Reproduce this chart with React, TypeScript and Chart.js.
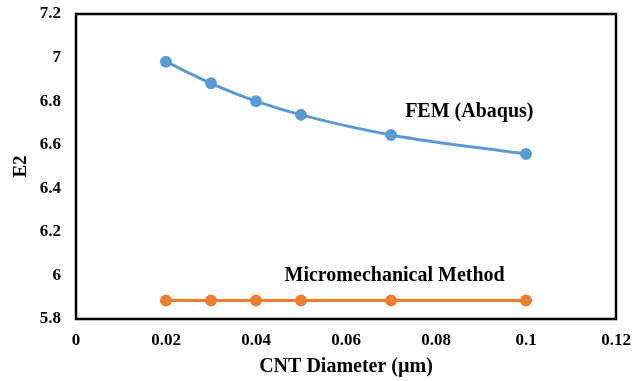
import React, { useEffect, useRef } from "react";
import { Chart, registerables } from "chart.js";

Chart.register(...registerables);

const diameters = [0.02, 0.03, 0.04, 0.05, 0.07, 0.1];
const femValues = [6.981, 6.882, 6.8, 6.737, 6.645, 6.557];
const microValues = [5.885, 5.885, 5.885, 5.885, 5.885, 5.885];
const femLabel = "FEM (Abaqus)";
const microLabel = "Micromechanical Method";
const xTitle = "CNT Diameter (µm)";
const yTitle = "E2";

const FONT = "'Liberation Serif', 'Times New Roman', serif";

export default function App() {
  const ref = useRef<HTMLCanvasElement | null>(null);
  useEffect(() => {
    if (!ref.current) return;
    const borderPlugin = {
      id: "frameAndLabels",
      afterDatasetsDraw(chart: any) {
        const { ctx, chartArea, scales } = chart;
        ctx.save();
        ctx.strokeStyle = "#000";
        ctx.lineWidth = 2.5;
        ctx.strokeRect(chartArea.left, chartArea.top, chartArea.right - chartArea.left, chartArea.bottom - chartArea.top);
        ctx.fillStyle = "#000";
        ctx.font = `bold 20px ${FONT}`;
        ctx.textAlign = "center";
        ctx.textBaseline = "middle";
        ctx.fillText(femLabel, scales.x.getPixelForValue(0.0874), scales.y.getPixelForValue(6.75));
        ctx.fillText(microLabel, scales.x.getPixelForValue(0.0708), scales.y.getPixelForValue(5.998));
        ctx.restore();
      },
    };
    const chart = new Chart(ref.current, {
      type: "line",
      data: {
        datasets: [
          {
            label: femLabel,
            data: diameters.map((d, i) => ({ x: d, y: femValues[i] })),
            borderColor: "#5B9BD5",
            backgroundColor: "#5B9BD5",
            borderWidth: 3,
            pointRadius: 4.5,
            pointHoverRadius: 4.5,
            tension: 0.4,
            cubicInterpolationMode: "monotone",
          },
          {
            label: microLabel,
            data: diameters.map((d, i) => ({ x: d, y: microValues[i] })),
            borderColor: "#ED7D31",
            backgroundColor: "#ED7D31",
            borderWidth: 3,
            pointRadius: 4.5,
            pointHoverRadius: 4.5,
            tension: 0,
          },
        ],
      },
      options: {
        animation: false,
        responsive: false,
        maintainAspectRatio: false,
        layout: { padding: { left: 0, right: 28, top: 14, bottom: 0 } },
        plugins: { legend: { display: false }, tooltip: { enabled: false } },
        scales: {
          x: {
            type: "linear",
            min: 0,
            max: 0.12,
            grid: { display: false, drawTicks: false },
            border: { display: false },
            afterFit: (s: any) => {
              s.height = 62;
              s.paddingLeft = 0;
              s.paddingRight = 0;
            },
            ticks: {
              stepSize: 0.02,
              padding: 11,
              color: "#000",
              font: { family: FONT, size: 17, weight: "bold" },
              callback: (v: any) => String(Math.round(Number(v) * 100) / 100),
              maxRotation: 0,
            },
            title: {
              display: true,
              text: xTitle,
              color: "#000",
              font: { family: FONT, size: 20, weight: "bold" },
              padding: { top: 4, bottom: 2 },
            },
          },
          y: {
            min: 5.8,
            max: 7.2,
            grid: { display: false, drawTicks: false },
            border: { display: false },
            afterFit: (s: any) => {
              s.width = 76;
              s.paddingTop = 0;
              s.paddingBottom = 0;
            },
            ticks: {
              stepSize: 0.2,
              padding: 15,
              color: "#000",
              font: { family: FONT, size: 17, weight: "bold" },
              callback: (v: any) => String(Math.round(Number(v) * 10) / 10),
            },
            title: {
              display: true,
              text: yTitle,
              color: "#000",
              font: { family: FONT, size: 19, weight: "bold" },
              padding: { top: 10, bottom: 0 },
            },
          },
        },
      },
      plugins: [borderPlugin],
    } as any);
    return () => chart.destroy();
  }, []);
  return (
    <div style={{ position: "absolute", left: 0, top: 0, width: 644, height: 381, background: "#fff" }}>
      <canvas ref={ref} width={644} height={381} style={{ display: "block" }} />
    </div>
  );
}
